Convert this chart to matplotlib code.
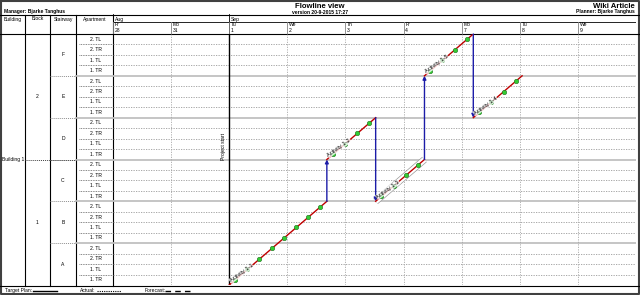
import matplotlib
matplotlib.use("Agg")
from matplotlib import pyplot as plt

plt.rcParams["font.family"] = ["Liberation Sans", "DejaVu Sans"]

# header texts
manager = "Manager: Bjarke Tanghus"
planner = "Planner: Bjarke Tanghus"
title = "Flowline view"
version = "version 20-9-2015 17:27"
project = "Wiki Article"
col_names = ["Building", "Block", "Stairway", "Apartment"]

# time axis (working days only)
day_names = ["Fr", "Mo", "Tu", "We", "Th", "Fr", "Mo", "Tu", "We"]
day_dates = ["28", "31", "1", "2", "3", "4", "7", "8", "9"]
months = ["Aug", "Sep"]
month_start = [0, 2]
project_start = 2.0

# locations, bottom to top
buildings = ["Building 1"]
blocks = ["1", "2"]
stairways = ["A", "B", "C", "D", "E", "F"]
apartments = ["1. TR", "1. TL", "2. TR", "2. TL"]

# flowline segments of activity 1 (days, rows)
seg_labels = ["Activity 1-1", "Activity 1-2", "Activity 1-3", "Activity 1-5", "Activity 1-4"]
seg_start = [2.00, 3.68, 4.52, 5.36, 6.20]
seg_end = [3.68, 4.52, 5.36, 6.20, 7.04]
seg_row0 = [0, 12, 8, 20, 16]
seg_row1 = [8, 16, 12, 24, 20]
unit_done = [
    [2.10, 2.31, 2.52, 2.73, 2.94, 3.15, 3.36, 3.57],
    [3.78, 3.99, 4.20, 4.41],
    [4.62, 4.83, 5.04, 5.25],
    [5.46, 5.67, 5.88, 6.09],
    [6.30, 6.51, 6.72, 6.93],
]

W, H = 640, 295
X0, X1 = 113, 636
Y_TOP, Y_BOT = 34, 285
col_x = [0, 25, 50, 76, 113]
FS = 3.6

fig = plt.figure(figsize=(W / 100, H / 100), dpi=100)
bg = fig.add_axes([0, 0, 1, 1])
bg.set_xlim(0, W)
bg.set_ylim(H, 0)
bg.axis("off")

n_days = len(day_names)
n_rows = len(stairways) * len(apartments)
rect = [X0 / W, (H - Y_BOT) / H, (X1 - X0) / W, (Y_BOT - Y_TOP) / H]
ax = fig.add_axes(rect)
ax.set_xlim(0, n_days)
ax.set_ylim(0, n_rows)
ax.axis("off")

lab = fig.add_axes([0, rect[1], X0 / W, rect[3]])
lab.set_xlim(0, X0)
lab.set_ylim(0, n_rows)
lab.axis("off")

hd = fig.add_axes([X0 / W, (H - Y_TOP) / H, (X1 - X0) / W, (Y_TOP - 14) / H])
hd.set_xlim(0, n_days)
hd.set_ylim(20, 0)
hd.axis("off")

# outer frame, title block
bg.plot([0.7, W - 1.5, W - 1.5, 0.7, 0.7], [0.7, 0.7, H - 1, H - 1, 0.7], color="#404040", lw=1.5)
bg.plot([0, W], [14.5, 14.5], color="black", lw=0.8)
bg.plot([0, W], [Y_TOP, Y_TOP], color="black", lw=0.8)
bg.plot([0, W], [Y_BOT + 1, Y_BOT + 1], color="black", lw=0.8)
bg.text(4, 11.5, manager, fontsize=FS, fontweight="bold", va="center")
bg.text(W / 2, 6.3, title, fontsize=5.6, fontweight="bold", ha="center", va="center")
bg.text(W / 2, 12, version, fontsize=FS, fontweight="bold", ha="center", va="center")
bg.text(W - 5, 6.3, project, fontsize=5.6, fontweight="bold", ha="right", va="center")
bg.text(W - 5, 12, planner, fontsize=FS, fontweight="bold", ha="right", va="center")
for i, name in enumerate(col_names):
    bg.text((col_x[i] + col_x[i + 1]) / 2, 16.5, name, fontsize=FS, ha="center", va="top")
for x in col_x[1:]:
    bg.plot([x, x], [14.5, Y_BOT + 1], color="black", lw=0.8)

# date header
hd.plot([0, n_days], [7.5, 7.5], color="black", lw=0.6)
for m, s in zip(months, month_start):
    hd.text(s + 0.03, 5.5, m, fontsize=FS, va="center")
    hd.plot([s, s], [0, 20], color="black", lw=0.6)
for i in range(n_days):
    hd.plot([i, i], [7.5, 20], color="#808080", lw=0.6)
    hd.text(i + 0.03, 11, day_names[i], fontsize=FS, va="center")
    hd.text(i + 0.03, 16.5, day_dates[i], fontsize=FS, va="center")

# grid of the chart
for r in range(1, n_rows):
    if r % len(apartments) == 0:
        ax.axhline(r, color="#c0c0c0", lw=1.3)
        lab.plot([col_x[3], X0], [r, r], color="#c0c0c0", lw=1.3)
        lab.plot([col_x[2], col_x[3]], [r, r], color="#909090", lw=0.7, ls=(0, (1, 1)))
    else:
        ax.axhline(r, color="#9a9a9a", lw=0.6, ls=(0, (1.5, 1.5)))
        lab.plot([col_x[3] + 3, X0], [r, r], color="#606060", lw=0.6, ls=(0, (1, 1)))
for d in range(1, n_days):
    ax.axvline(d, color="#a8a8a8", lw=0.6, ls=(0, (1.5, 1.5)))
ax.axvline(project_start, color="black", lw=1)
ax.text(project_start - 0.09, 13.2, "Project start", rotation=90, fontsize=FS, ha="center", va="center")

# location labels
half = n_rows / 2
lab.plot([col_x[1], col_x[3]], [half, half], color="#404040", lw=0.7, ls=(0, (1, 1)))
lab.text(2, half, buildings[0], fontsize=FS, va="center")
for i, b in enumerate(blocks):
    lab.text((col_x[1] + col_x[2]) / 2, half * i + half / 2, b, fontsize=FS, ha="center", va="center")
for i, s in enumerate(stairways):
    lab.text((col_x[2] + col_x[3]) / 2, 4 * i + 2, s, fontsize=FS, ha="center", va="center")
    for j, a in enumerate(apartments):
        lab.text((col_x[3] + X0) / 2 + 1, 4 * i + j + 0.5, a, fontsize=FS, ha="center", va="center")

# flowlines
for k in range(len(seg_start)):
    xs = [seg_start[k], seg_end[k]]
    ys = [seg_row0[k], seg_row1[k]]
    if k == 2:
        ax.plot(xs, ys, color="#9a9a9a", lw=5, solid_capstyle="butt", zorder=3)
        ax.plot(xs, ys, color="white", lw=4, solid_capstyle="butt", zorder=3)
    ax.plot(xs, ys, color="#c00000", lw=1, zorder=4)
    ax.plot(unit_done[k], [seg_row0[k] + j + 0.5 for j in range(len(unit_done[k]))],
            ls="none", marker="o", ms=3.2, mfc="#33cc33", mec="#207020", mew=0.4, zorder=5)
    ax.text(seg_start[k] + 0.04, seg_row0[k] + 0.15, seg_labels[k], fontsize=4.1,
            rotation=76, rotation_mode="anchor", transform_rotates_text=True,
            ha="left", va="bottom", zorder=6,
            bbox=dict(fc="white", ec="none", pad=0.2, alpha=0.8))
    if k + 1 < len(seg_start):
        ax.annotate("", xy=(seg_start[k + 1], seg_row0[k + 1]), xytext=(seg_end[k], seg_row1[k]),
                    arrowprops=dict(arrowstyle="-|>", color="#1c1ca8", lw=1, mutation_scale=5,
                                    shrinkA=0, shrinkB=0), zorder=4)

# legend row
bg.text(5, 290.5, "Target Plan:", fontsize=FS, va="center")
bg.plot([33, 57], [290.5, 290.5], color="black", lw=1)
bg.text(80, 290.5, "Actual:", fontsize=FS, va="center")
bg.plot([97, 121], [290.5, 290.5], color="black", lw=0.8, ls=(0, (1, 1)))
bg.text(145, 290.5, "Forecast:", fontsize=FS, va="center")
bg.plot([165, 190], [290.5, 290.5], color="black", lw=1, ls=(0, (4, 3)))

fig.savefig("out.png", dpi=100)
